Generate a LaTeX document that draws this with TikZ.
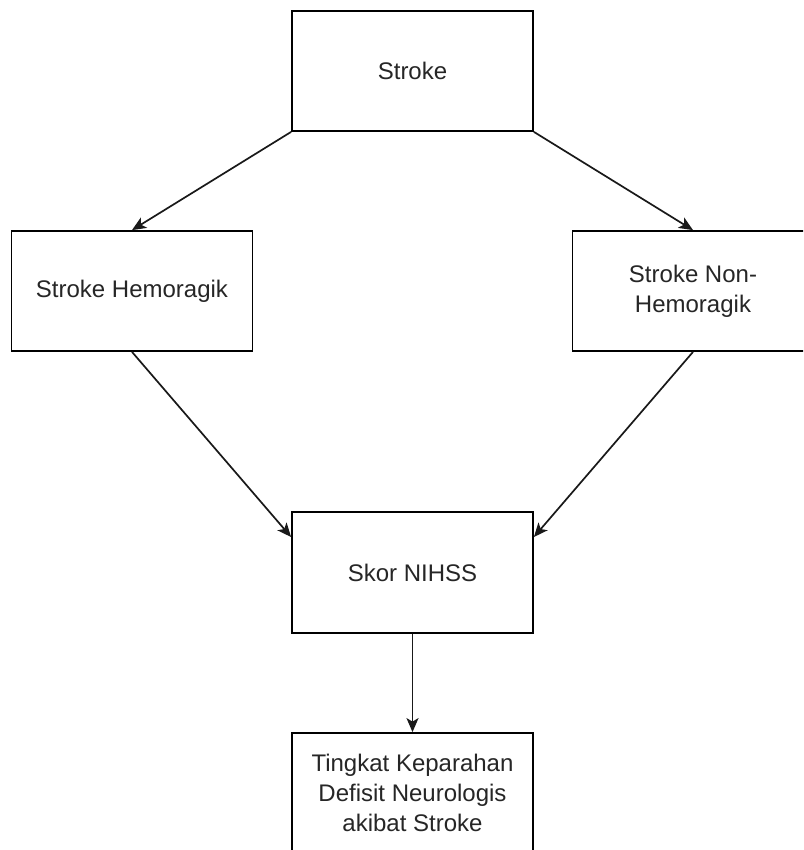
\documentclass[tikz,border=0pt]{standalone}
\usepackage{fontspec}
\setmainfont{Liberation Sans}
\usetikzlibrary{arrows.meta}
\begin{document}
\begin{tikzpicture}[x=1pt,y=-1pt,
  box/.style={draw=black, line width=1.8pt, fill=white, minimum width=241pt, minimum height=120pt,
    inner sep=0pt, align=center, font=\fontsize{24}{30}\selectfont, text=black!85},
  conn/.style={draw=black!90, line width=1.7pt, -{Stealth[length=14pt,width=12pt,inset=3.5pt]}}]
\useasboundingbox (0,0) rectangle (803,850);
\clip (0,0) rectangle (803,850);
\fill[white] (0,0) rectangle (803,850);
\node[box] (stroke) at (412.5,71) {Stroke};
\node[box] (hem) at (132,291) {Stroke Hemoragik};
\node[box] (non) at (693,291) {Stroke Non-\\Hemoragik};
\node[box, minimum height=121pt] (skor) at (412.5,572.5) {Skor NIHSS};
\node[box] (ting) at (412.5,793) {Tingkat Keparahan\\Defisit Neurologis\\akibat Stroke};
\coordinate (skorL) at ([yshift=35.5pt]skor.west);
\coordinate (skorR) at ([yshift=35.5pt]skor.east);
\draw[conn] (stroke.south west) -- (hem.north);
\draw[conn] (stroke.south east) -- (non.north);
\draw[conn] (hem.south) -- (skorL);
\draw[conn] (non.south) -- (skorR);
\draw[conn] (skor.south) -- (ting.north);
\end{tikzpicture}
\end{document}
